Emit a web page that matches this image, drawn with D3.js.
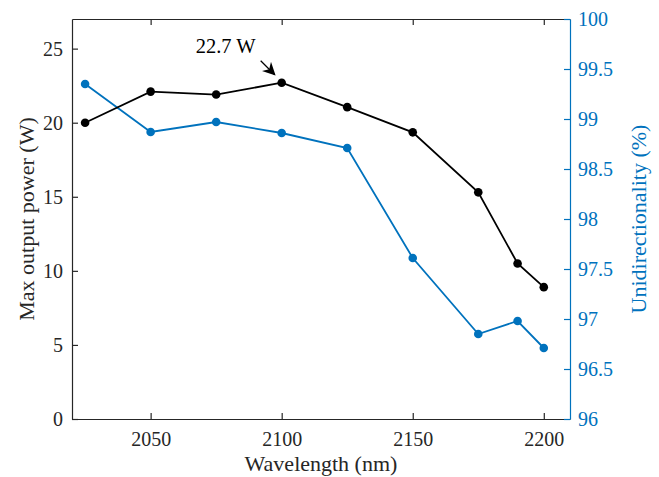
<!DOCTYPE html>
<html>
<head>
<meta charset="utf-8">
<script src="https://cdn.jsdelivr.net/npm/d3@7"></script>
<style>
  body { margin: 0; background: #fff; }
</style>
</head>
<body>
<svg id="chart" width="659" height="477"></svg>
<script>
// Data
const wavelengths = [2025, 2050, 2075, 2100, 2125, 2150, 2175, 2190, 2200];
const maxPower = [20.0, 22.1, 21.9, 22.7, 21.05, 19.35, 15.3, 10.5, 8.9];
const unidirectionality = [99.35, 98.87, 98.97, 98.86, 98.71, 97.61, 96.85, 96.98, 96.71];
const xTicks = [2050, 2100, 2150, 2200];
const leftTicks = [0, 5, 10, 15, 20, 25];
const rightTicks = [96, 96.5, 97, 97.5, 98, 98.5, 99, 99.5, 100];
const peakLabel = "22.7 W";

const font = "'Liberation Serif', 'Times New Roman', Times, serif";

const svg = d3.select("#chart").attr("font-family", font);
const margin = { top: 19, right: 89, bottom: 58, left: 72 };
const W = +svg.attr("width"), H = +svg.attr("height");
const x0 = margin.left, x1 = W - margin.right;
const y0 = H - margin.bottom, y1 = margin.top;

const axisColor = "#262626";
const blue = "#0072BD";

const x = d3.scaleLinear().domain([2020, 2210]).range([x0, x1]);
const yL = d3.scaleLinear().domain([0, 27]).range([y0, y1]);
const yR = d3.scaleLinear().domain([96, 100]).range([y0, y1]);

// axes (ticks point inward, MATLAB style)
const gBottom = svg.append("g")
    .attr("transform", `translate(0,${y0})`)
    .call(d3.axisBottom(x).tickValues(xTicks).tickSize(-6).tickSizeOuter(0).tickPadding(13).tickFormat(d3.format("d")));

const gTop = svg.append("g")
    .attr("transform", `translate(0,${y1})`)
    .call(d3.axisTop(x).tickValues(xTicks).tickSize(-6).tickSizeOuter(0).tickFormat(""));

const gLeft = svg.append("g")
    .attr("transform", `translate(${x0},0)`)
    .call(d3.axisLeft(yL).tickValues(leftTicks).tickSize(-6).tickSizeOuter(0).tickPadding(9));

const gRight = svg.append("g")
    .attr("transform", `translate(${x1},0)`)
    .call(d3.axisRight(yR).tickValues(rightTicks).tickSize(-6).tickSizeOuter(0).tickPadding(8)
        .tickFormat(d => d3.format("")(d)));

[gBottom, gTop, gLeft, gRight].forEach(g => g.attr("font-family", font));

[gBottom, gTop, gLeft].forEach(g => {
    g.select(".domain").attr("stroke", axisColor).attr("stroke-width", 1.2);
    g.selectAll(".tick line").attr("stroke", axisColor).attr("stroke-width", 1.2);
    g.selectAll(".tick text").attr("fill", axisColor).style("font-size", "20px").style("font-family", font);
});
gRight.select(".domain").attr("stroke", blue).attr("stroke-width", 1.2);
gRight.selectAll(".tick line").attr("stroke", blue).attr("stroke-width", 1.2);
gRight.selectAll(".tick text").attr("fill", blue).style("font-size", "20px").style("font-family", font);

// axis labels
svg.append("text")
    .attr("x", (x0 + x1) / 2)
    .attr("y", 471)
    .attr("text-anchor", "middle")
    .attr("fill", axisColor)
    .style("font-size", "22px")
    .style("font-family", font)
    .text("Wavelength (nm)");

svg.append("text")
    .attr("transform", `translate(34,${(y0 + y1) / 2}) rotate(-90)`)
    .attr("text-anchor", "middle")
    .attr("fill", axisColor)
    .style("font-size", "22px")
    .style("font-family", font)
    .text("Max output power (W)");

svg.append("text")
    .attr("transform", `translate(646,${(y0 + y1) / 2}) rotate(-90)`)
    .attr("text-anchor", "middle")
    .attr("fill", blue)
    .style("font-size", "22px")
    .style("font-family", font)
    .text("Unidirectionality (%)");

// lines
const powerLine = d3.line().x((d, i) => x(wavelengths[i])).y(d => yL(d));
const uniLine = d3.line().x((d, i) => x(wavelengths[i])).y(d => yR(d));

svg.append("path")
    .datum(unidirectionality)
    .attr("d", uniLine)
    .attr("fill", "none")
    .attr("stroke", blue)
    .attr("stroke-width", 1.8);

svg.selectAll(".uni-dot")
    .data(unidirectionality)
    .join("circle")
    .attr("class", "uni-dot")
    .attr("cx", (d, i) => x(wavelengths[i]))
    .attr("cy", d => yR(d))
    .attr("r", 4.3)
    .attr("fill", blue);

svg.append("path")
    .datum(maxPower)
    .attr("d", powerLine)
    .attr("fill", "none")
    .attr("stroke", "#000")
    .attr("stroke-width", 1.8);

svg.selectAll(".pow-dot")
    .data(maxPower)
    .join("circle")
    .attr("class", "pow-dot")
    .attr("cx", (d, i) => x(wavelengths[i]))
    .attr("cy", d => yL(d))
    .attr("r", 4.3)
    .attr("fill", "#000");

// annotation at the peak
const peakIdx = maxPower.indexOf(d3.max(maxPower));
const px = x(wavelengths[peakIdx]), py = yL(maxPower[peakIdx]);

svg.append("defs").append("marker")
    .attr("id", "arrowhead")
    .attr("viewBox", "0 0 10 10")
    .attr("refX", 9).attr("refY", 5)
    .attr("markerWidth", 13).attr("markerHeight", 13)
    .attr("markerUnits", "userSpaceOnUse")
    .attr("orient", "auto")
    .append("path")
    .attr("d", "M0,0 L10,5 L0,10 L3,5 Z")
    .attr("fill", "#000");

svg.append("line")
    .attr("x1", px - 21).attr("y1", py - 22)
    .attr("x2", px - 7).attr("y2", py - 8)
    .attr("stroke", "#000")
    .attr("stroke-width", 1.2)
    .attr("marker-end", "url(#arrowhead)");

svg.append("text")
    .attr("x", px - 26)
    .attr("y", py - 30)
    .attr("text-anchor", "end")
    .attr("fill", "#000")
    .style("font-size", "20.5px")
    .style("font-family", font)
    .text(peakLabel);
</script>
</body>
</html>
